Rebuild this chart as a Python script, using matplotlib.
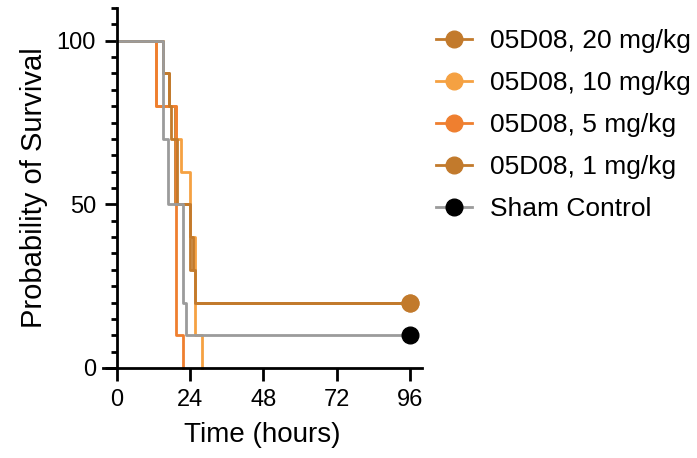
import numpy as np
import matplotlib.pyplot as plt
from matplotlib.lines import Line2D
from matplotlib.ticker import MultipleLocator

plt.rcParams['font.family'] = ['Liberation Sans', 'DejaVu Sans']

# Kaplan-Meier steps (hours, % surviving)
time_20 = [0, 15.2, 17.1, 19.0, 23.9, 25.6, 96]
surv_20 = [100, 90, 80, 50, 30, 20, 20]
time_10 = [0, 13.0, 19.5, 21.2, 23.9, 25.8, 28.0]
surv_10 = [100, 80, 70, 60, 40, 10, 0]
time_5 = [0, 13.0, 19.3, 21.7]
surv_5 = [100, 80, 10, 0]
time_1 = [0, 15.2, 17.1, 17.8, 19.8, 23.9, 25.0, 25.6, 96]
surv_1 = [100, 90, 80, 70, 50, 40, 30, 20, 20]
time_sham = [0, 15.0, 16.8, 21.6, 22.7, 96]
surv_sham = [100, 70, 50, 20, 10, 10]

labels = ['05D08, 20 mg/kg', '05D08, 10 mg/kg', '05D08, 5 mg/kg',
          '05D08, 1 mg/kg', 'Sham Control']
times = [time_20, time_10, time_5, time_1, time_sham]
survs = [surv_20, surv_10, surv_5, surv_1, surv_sham]
line_colors = ['#C27A2C', '#F5A142', '#EF7F2F', '#C27A2C', '#9B9B9B']
marker_colors = ['#C27A2C', '#F5A142', '#EF7F2F', '#C27A2C', '#000000']

fig = plt.figure(figsize=(6.97, 4.58), dpi=100)
ax = fig.add_axes([103/697, 1-368/458, (422-103)/697, (368-8)/458])

for t, s, lc, mc in zip(times, survs, line_colors, marker_colors):
    ax.step(t, s, where='post', color=lc, lw=2, clip_on=False)
    # censored at end of study
    if t[-1] == 96:
        ax.plot(t[-1], s[-1], 'o', ms=12, color=mc, clip_on=False, zorder=5)

ax.set_xlim(-4.5, 100)
ax.set_ylim(0, 110)
ax.spines['left'].set_position(('data', 0))
ax.spines['top'].set_visible(False)
ax.spines['right'].set_visible(False)
for sp in ['left', 'bottom']:
    ax.spines[sp].set_linewidth(2)

ax.set_xticks([0, 24, 48, 72, 96])
ax.set_yticks([0, 50, 100])
ax.yaxis.set_minor_locator(MultipleLocator(5))
ax.tick_params(which='major', length=9, width=2, labelsize=17, pad=6)
ax.tick_params(which='minor', length=4.5, width=2)

ax.set_xlabel('Time (hours)', fontsize=20, labelpad=8)
ax.set_ylabel('Probability of Survival', fontsize=21, labelpad=6)

handles = [Line2D([], [], color=lc, lw=2, marker='o', ms=12,
                  markerfacecolor=mc, markeredgecolor=mc)
           for lc, mc in zip(line_colors, marker_colors)]
fig.legend(handles, labels, loc='upper left', bbox_to_anchor=(436/697, 1-29/458),
           frameon=False, fontsize=19, handlelength=1.35, handletextpad=0.7,
           labelspacing=0.68, borderaxespad=0, borderpad=0)

fig.savefig('out.png', dpi=100)
